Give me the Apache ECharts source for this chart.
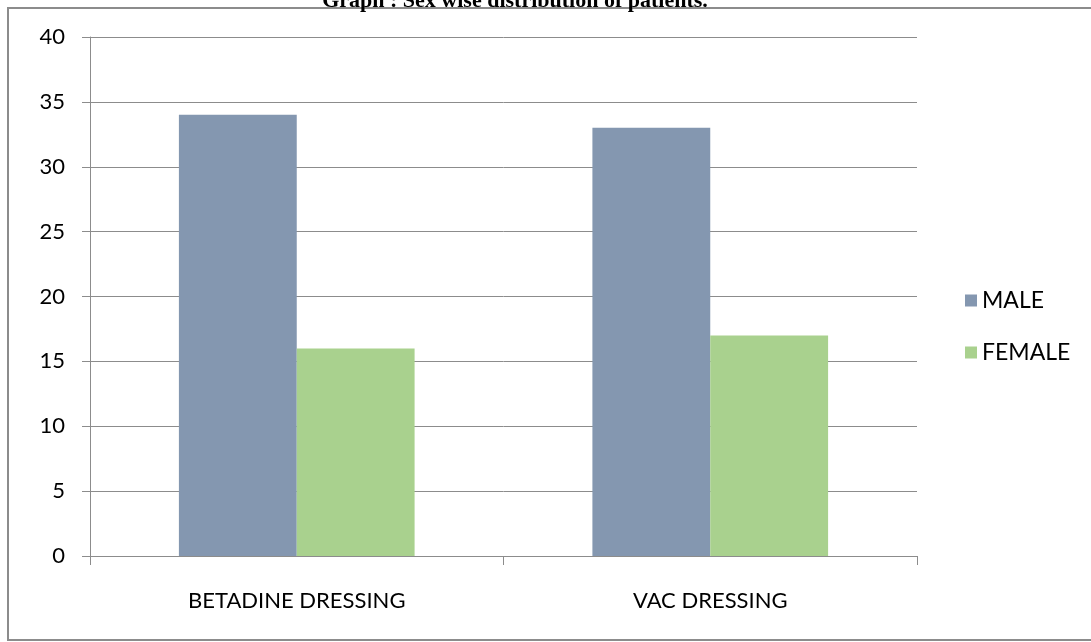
<!DOCTYPE html>
<html>
<head>
<meta charset="utf-8">
<script src="https://cdn.jsdelivr.net/npm/echarts@6/dist/echarts.min.js"></script>
<style>
  html, body { margin: 0; padding: 0; background: #fff; }
  #chart { width: 1091px; height: 642px; }
</style>
</head>
<body>
<div id="chart"></div>
<script>
  // chart data
  const categories = ['BETADINE DRESSING', 'VAC DRESSING'];
  const maleValues = [34, 33];
  const femaleValues = [16, 17];
  const seriesNames = ['MALE', 'FEMALE'];

  const font = 'Lato, "Open Sans", sans-serif';

  let chart = echarts.init(document.getElementById('chart'));

  let option = {
    backgroundColor: '#fff',
    animation: false,
    title: {
      text: 'Graph : Sex wise distribution of patients.',
      left: 510,
      textAlign: 'center',
      top: -15,
      textStyle: {
        fontFamily: '"Liberation Serif", serif',
        fontWeight: 'bold',
        fontSize: 22,
        color: '#000'
      }
    },
    graphic: [
      {
        type: 'rect',
        shape: { x: 8, y: 8, width: 1090, height: 632 },
        style: { fill: 'none', stroke: '#8c8c8c', lineWidth: 2 },
        z: -1
      }
    ],
    legend: {
      orient: 'vertical',
      left: 960,
      top: 284,
      itemWidth: 12,
      itemHeight: 12,
      itemGap: 29,
      icon: 'rect',
      textStyle: { fontFamily: font, fontSize: 23, color: '#000' },
      data: seriesNames
    },
    grid: {
      left: 90,
      right: 174,
      top: 37,
      bottom: 86,
      containLabel: false
    },
    xAxis: {
      type: 'category',
      data: categories,
      axisLine: { lineStyle: { color: '#8c8c8c', width: 1 } },
      axisTick: { show: true, length: 9, lineStyle: { color: '#8c8c8c' } },
      axisLabel: {
        margin: 34,
        fontFamily: font,
        fontSize: 22,
        color: '#000'
      }
    },
    yAxis: {
      type: 'value',
      min: 0,
      max: 40,
      interval: 5,
      axisLine: { show: true, lineStyle: { color: '#8c8c8c', width: 1 } },
      axisTick: { show: true, length: 8, lineStyle: { color: '#8c8c8c' } },
      axisLabel: {
        margin: 25,
        fontFamily: font,
        fontSize: 22,
        color: '#000'
      },
      splitLine: { show: true, lineStyle: { color: '#8c8c8c', width: 1 } }
    },
    series: [
      {
        name: seriesNames[0],
        type: 'bar',
        data: maleValues,
        barGap: '0%',
        barCategoryGap: '43%',
        itemStyle: { color: '#8497b0' }
      },
      {
        name: seriesNames[1],
        type: 'bar',
        data: femaleValues,
        barGap: '0%',
        barCategoryGap: '43%',
        itemStyle: { color: '#a9d18e' }
      }
    ]
  };

  chart.setOption(option);
</script>
</body>
</html>
